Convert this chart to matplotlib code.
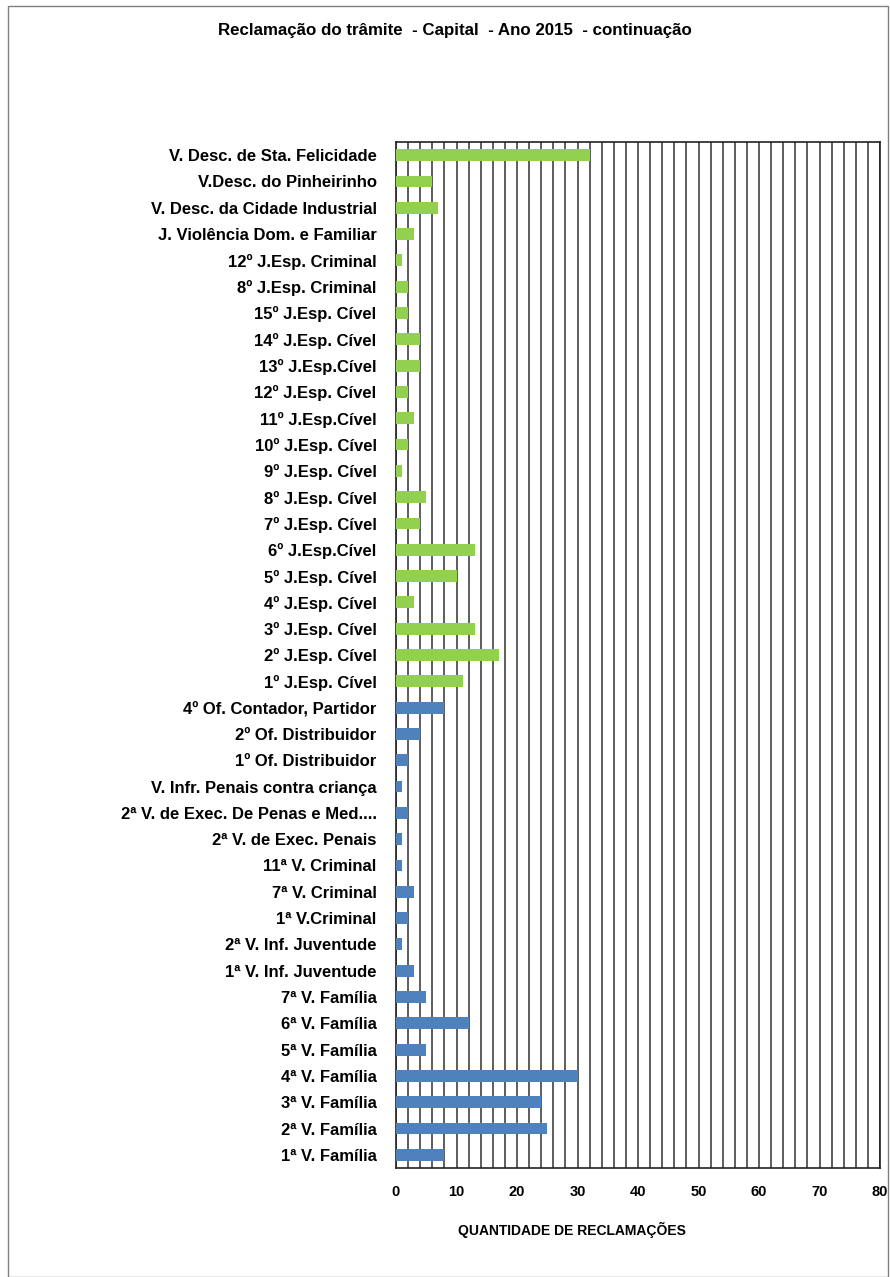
import matplotlib.pyplot as plt
import matplotlib.patches as mpatches
from matplotlib import font_manager

# categories, bottom to top
labels = ['1ª V. Família', '2ª V. Família', '3ª V. Família', '4ª V. Família',
          '5ª V. Família', '6ª V. Família', '7ª V. Família',
          '1ª V. Inf. Juventude', '2ª V. Inf. Juventude', '1ª V.Criminal',
          '7ª V. Criminal', '11ª V. Criminal', '2ª V. de Exec. Penais',
          '2ª V. de Exec. De Penas e Med....', 'V. Infr. Penais contra criança',
          '1º Of. Distribuidor', '2º Of. Distribuidor', '4º Of. Contador, Partidor',
          '1º J.Esp. Cível', '2º J.Esp. Cível', '3º J.Esp. Cível', '4º J.Esp. Cível',
          '5º J.Esp. Cível', '6º J.Esp.Cível', '7º J.Esp. Cível', '8º J.Esp. Cível',
          '9º J.Esp. Cível', '10º J.Esp. Cível', '11º J.Esp.Cível', '12º J.Esp. Cível',
          '13º J.Esp.Cível', '14º J.Esp. Cível', '15º J.Esp. Cível',
          '8º J.Esp. Criminal', '12º J.Esp. Criminal', 'J. Violência Dom. e Familiar',
          'V. Desc. da Cidade Industrial', 'V.Desc. do Pinheirinho',
          'V. Desc. de Sta. Felicidade']
values = [8, 25, 24, 30, 5, 12, 5,
          3, 1, 2, 3, 1, 1, 2, 1,
          2, 4, 8,
          11, 17, 13, 3, 10, 13, 4, 5, 1, 2, 3, 2, 4, 4, 2,
          2, 1, 3, 7, 6, 32]
n_blue = 18  # first 18 entries are blue, rest green

fam = 'Liberation Sans Narrow'
try:
    font_manager.findfont(fam, fallback_to_default=False)
except Exception:
    fam = 'Liberation Sans'
plt.rcParams['font.family'] = [fam, 'DejaVu Sans']

fig = plt.figure(figsize=(8.9, 12.77), dpi=100)
ax = fig.add_axes([396/890, 1 - 1168/1277, (880-396)/890, (1168-142)/1277])

colors = ['#4F81BD'] * n_blue + ['#92D050'] * (len(values) - n_blue)
ypos = list(range(len(values)))
ax.barh(ypos, values, height=0.45, color=colors, zorder=3)

ax.set_xlim(0, 80)
ax.set_ylim(-0.5, len(values) - 0.5)
ax.set_xticks(range(0, 81, 10))
ax.set_xticks(range(0, 81, 2), minor=True)
ax.tick_params(axis='x', which='both', length=0, pad=12, labelsize=10.5)
ax.tick_params(axis='y', length=0, pad=14, labelsize=12)
for t in ax.get_xticklabels():
    t.set_fontweight('bold')
ax.set_yticks(ypos)
ax.set_yticklabels(labels, fontweight='bold')
ax.grid(axis='x', which='both', color='#505050', linewidth=1.3, zorder=0)
for s in ax.spines.values():
    s.set_color('#222222')
    s.set_linewidth(1.2)

fig.text(572/890, 1 - 1230/1277, 'QUANTIDADE DE RECLAMAÇÕES', ha='center', va='center',
         fontsize=10, fontweight='bold')
fig.text(455/890, 1 - 30/1277, 'Reclamação do trâmite  - Capital  - Ano 2015  - continuação',
         ha='center', va='center', fontsize=12.2, fontweight='bold')

fig.patches.append(mpatches.Rectangle((8/890, 0), 880/890, 1 - 6/1277, transform=fig.transFigure,
                                      fill=False, edgecolor='#808080', linewidth=1))

fig.savefig('out.png', dpi=100)
